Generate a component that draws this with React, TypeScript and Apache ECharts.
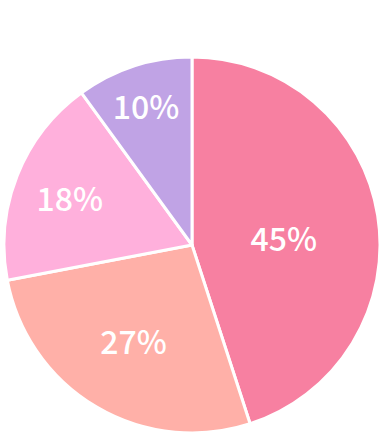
import React, { useEffect, useRef } from "react";
import * as echarts from "echarts";

const categories = ["A", "B", "C", "D"];
const values = [45, 27, 18, 10];
const colors = ["#F780A1", "#FFB0A8", "#FFB0DC", "#C0A3E5"];
const labelOffsets: number[][] = [[-4, 7], [-9, 12], [-32, -12], [-16, -48]];

export default function App() {
  const ref = useRef<HTMLDivElement>(null);
  useEffect(() => {
    const chart = echarts.init(ref.current!, null, { renderer: "svg" });
    chart.setOption({
      animation: false,
      series: [
        {
          type: "pie",
          center: [192, 245],
          radius: [0, 188],
          startAngle: 90,
          clockwise: true,
          itemStyle: { borderColor: "#fff", borderWidth: 3 },
          label: {
            show: true,
            position: "inside",
            formatter: "{c}%",
            color: "#fff",
            fontSize: 32,
            fontWeight: 500,
            fontFamily: "Noto Sans CJK JP",
          },
          labelLine: { show: false },
          data: categories.map((n, i) => ({
            name: n,
            value: values[i],
            itemStyle: { color: colors[i] },
            label: { offset: labelOffsets[i] },
          })),
        },
      ],
    });
    return () => chart.dispose();
  }, []);
  return (
    <div
      ref={ref}
      style={{ position: "fixed", left: 0, top: 0, width: 384, height: 438, background: "#fff" }}
    />
  );
}
